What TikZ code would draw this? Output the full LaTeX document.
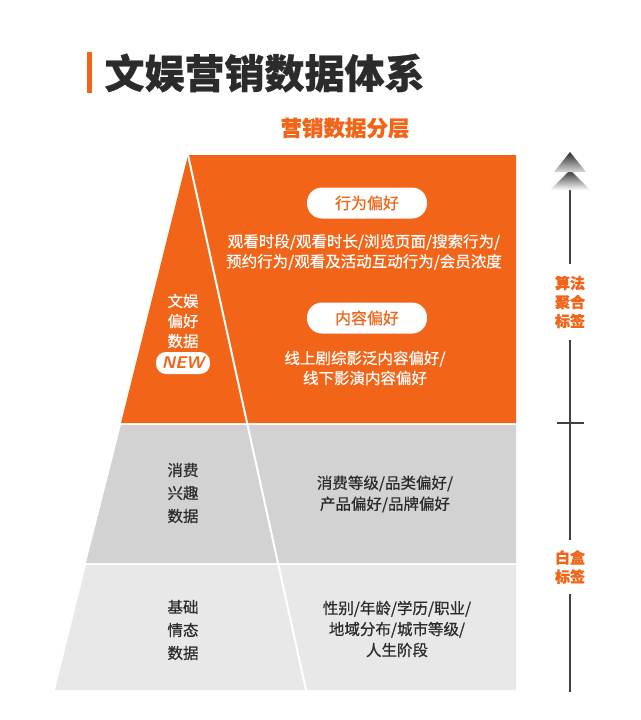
\documentclass[tikz,border=0pt]{standalone}
\usepackage{fontspec}
\setmainfont{Noto Sans CJK SC}[FakeBold=0.6]
\begin{document}
\definecolor{og}{HTML}{F26418}
\definecolor{gA}{HTML}{D2D2D2}
\definecolor{gB}{HTML}{E8E8E8}
\definecolor{tx}{HTML}{2B2B2B}
\begin{tikzpicture}[x=1pt,y=-1pt,
  pill/.style={fill=white,rounded corners=15pt,minimum width=120pt,minimum height=31pt,text=og,font=\fontsize{16}{16}\selectfont},
  wt/.style={text=white,align=center,font=\fontsize{15.5}{20}\selectfont},
  dk/.style={text=tx,align=center,font=\fontsize{15.5}{21}\selectfont},
  ax/.style={text=og,align=center,font=\bfseries\fontsize{15}{19}\selectfont,fill=white,inner sep=2pt}]
\useasboundingbox (0,0) rectangle (640,720);
% regions
\fill[og] (188,155) -- (516,155) -- (516,423) -- (121,423) -- cycle;
\fill[gA] (121,425) -- (516,425) -- (516,563) -- (86,563) -- cycle;
\fill[gB] (86,565) -- (516,565) -- (516,690) -- (55,690) -- cycle;
\draw[white,line width=2pt] (188,155) -- (306,690);
% title
\fill[og] (87,52) rectangle (92,93);
\node[anchor=west,text=tx,font=\bfseries\fontsize{40}{40}\selectfont] (title) at (101,73) {文娱营销数据体系};
\node[text=og,font=\bfseries\fontsize{21.5}{21.5}\selectfont] (sub) at (345,128) {营销数据分层};
% orange
\node[pill] (p1) at (367,203) {行为偏好};
\node[wt] (t1) at (364,252) {观看时段/观看时长/浏览页面/搜索行为/\\预约行为/观看及活动互动行为/会员浓度};
\node[pill] (p2) at (367,318) {内容偏好};
\node[wt] (t2) at (365,368) {线上剧综影泛内容偏好/\\线下影演内容偏好};
\node[wt] (l1) at (183,321) {文娱\\偏好\\数据};
\node[fill=white,rounded corners=10pt,minimum width=54pt,minimum height=22pt,text=og,font=\bfseries\itshape\sffamily\fontsize{17}{17}\selectfont,inner sep=0pt] (new) at (183,363) {NEW};
% gray
\node[dk,font=\fontsize{15.5}{23}\selectfont] (l2) at (183,493) {消费\\兴趣\\数据};
\node[dk] (t3) at (385,494) {消费等级/品类偏好/\\产品偏好/品牌偏好};
\node[dk,font=\fontsize{15.5}{23}\selectfont] (l3) at (183,630) {基础\\情态\\数据};
\node[dk] (t4) at (397,629) {性别/年龄/学历/职业/\\地域分布/城市等级/\\人生阶段};
% axis
\coordinate (top) at (570,190);
\coordinate (bot) at (570,692);
\draw[tx!90,line width=2.5pt] (top) -- (bot);
\draw[tx!90,line width=2pt] (557,423) -- (584,423);
\shade[top color=tx,bottom color=white] (570,170) -- (590,190) -- (550,190) -- cycle;
\shade[top color=tx,bottom color=white!70!gray] (570,152) -- (586,172) -- (554,172) -- cycle;
\node[ax,minimum height=76pt] (a1) at (570,302) {算法\\聚合\\标签};
\node[ax,minimum height=54pt] (a2) at (570,567) {白盒\\标签};
\end{tikzpicture}
\end{document}
